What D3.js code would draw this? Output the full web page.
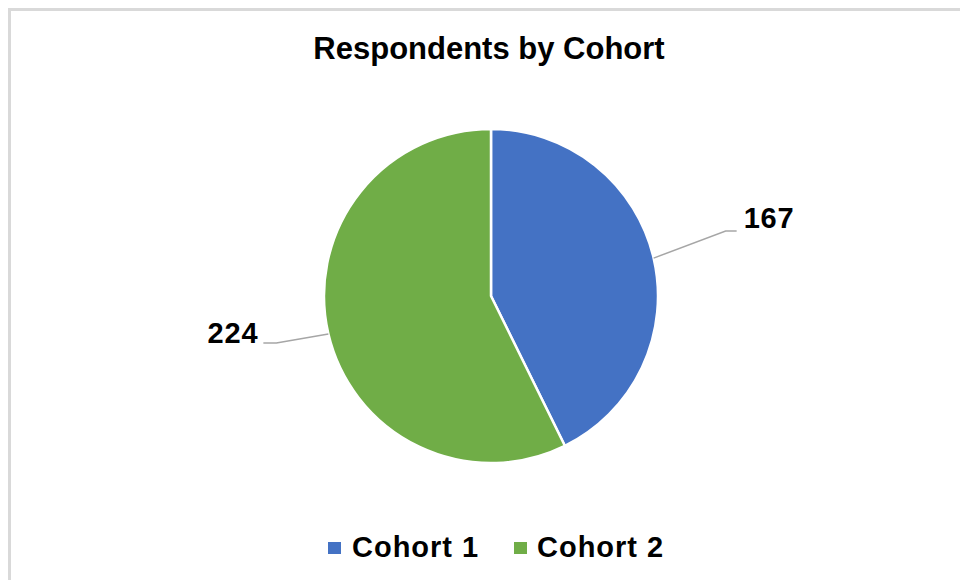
<!DOCTYPE html>
<html>
<head>
<meta charset="utf-8">
<script src="https://cdn.jsdelivr.net/npm/d3@7"></script>
<style>
  html, body { margin: 0; padding: 0; background: #fff; }
  svg { display: block; font-family: "Liberation Sans", Arial, sans-serif; }
</style>
</head>
<body>
<svg id="chart" width="960" height="580"></svg>
<script>
// Chart data
const categories = ["Cohort 1", "Cohort 2"];
const values = [167, 224];
const colors = ["#4472C4", "#70AD47"];
const title = "Respondents by Cohort";

// Leader-line elbow offsets (from the arc edge) and label side
const leaderOffsets = [
  { dx: 72, dy: -27, run: 11, side: 1 },
  { dx: -52, dy: 9, run: -13, side: -1 }
];

const svg = d3.select("#chart");
const W = 960, H = 580;
const cx = 491, cy = 296, radius = 167;

// Chart area frame
svg.append("rect")
  .attr("x", 9.5).attr("y", 9.5)
  .attr("width", W + 20).attr("height", H + 20)
  .attr("fill", "#fff")
  .attr("stroke", "#d9d9d9")
  .attr("stroke-width", 3);

// Title
svg.append("text")
  .attr("x", 489).attr("y", 59)
  .attr("text-anchor", "middle")
  .attr("font-size", 31)
  .attr("font-weight", "bold")
  .attr("fill", "#000")
  .text(title);

const pie = d3.pie().sort(null).value(d => d)(values);
const arc = d3.arc().innerRadius(0).outerRadius(radius);

const g = svg.append("g").attr("transform", `translate(${cx},${cy})`);

g.selectAll("path.slice")
  .data(pie)
  .join("path")
  .attr("class", "slice")
  .attr("d", arc)
  .attr("fill", (d, i) => colors[i])
  .attr("stroke", "#fff")
  .attr("stroke-width", 2.5)
  .attr("stroke-linejoin", "round");

// Data labels with leader lines
pie.forEach((d, i) => {
  const a = (d.startAngle + d.endAngle) / 2;
  const p0 = [radius * Math.sin(a), -radius * Math.cos(a)];
  const o = leaderOffsets[i];
  const p1 = [p0[0] + o.dx, p0[1] + o.dy];
  const p2 = [p1[0] + o.run, p1[1]];
  g.append("polyline")
    .attr("points", [p0, p1, p2].map(p => p.join(",")).join(" "))
    .attr("fill", "none")
    .attr("stroke", "#a6a6a6")
    .attr("stroke-width", 1.5);
  g.append("text")
    .attr("x", p2[0] + o.side * (o.side > 0 ? 7 : 5))
    .attr("y", p2[1] + (o.side > 0 ? -3 : 0))
    .attr("text-anchor", o.side > 0 ? "start" : "end")
    .attr("font-size", 29)
    .attr("letter-spacing", 0.8)
    .attr("font-weight", "bold")
    .attr("fill", "#000")
    .text(values[i]);
});

// Legend
const legendItems = [
  { x: 328, textX: 352 },
  { x: 514, textX: 537 }
];
const legend = svg.append("g");
categories.forEach((c, i) => {
  legend.append("rect")
    .attr("x", legendItems[i].x).attr("y", 542)
    .attr("width", 13).attr("height", 12)
    .attr("fill", colors[i]);
  legend.append("text")
    .attr("x", legendItems[i].textX).attr("y", 557)
    .attr("font-size", 29)
    .attr("letter-spacing", 1)
    .attr("font-weight", "bold")
    .attr("fill", "#000")
    .text(c);
});
</script>
</body>
</html>
